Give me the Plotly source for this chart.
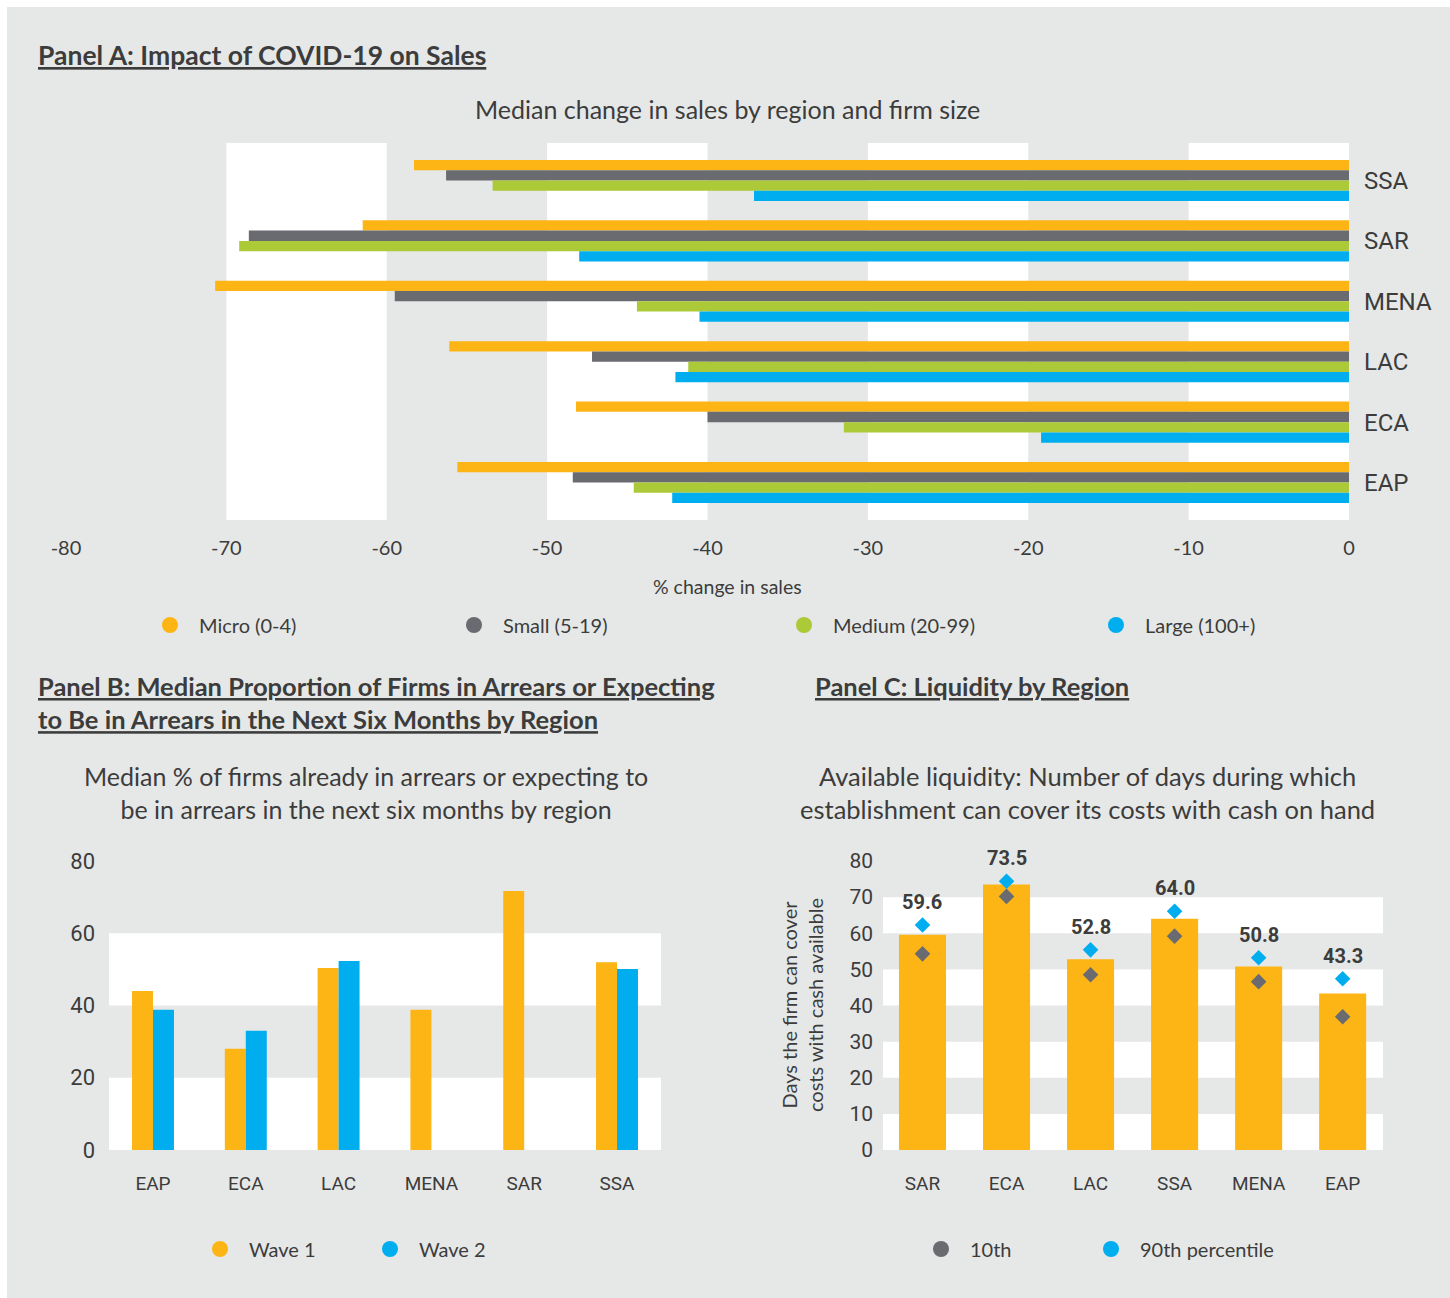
import plotly.graph_objects as go

# ---------------- data ----------------
# Panel A: median % change in sales by region and firm size
regions_a = ["EAP", "ECA", "LAC", "MENA", "SAR", "SSA"]
micro = [-55.6, -48.2, -56.1, -70.7, -61.5, -58.3]
small = [-48.4, -40.0, -47.2, -59.5, -68.6, -56.3]
medium = [-44.6, -31.5, -41.2, -44.4, -69.2, -53.4]
large = [-42.2, -19.2, -42.0, -40.5, -48.0, -37.1]
xticks_a = [-80, -70, -60, -50, -40, -30, -20, -10, 0]

# Panel B: median % of firms in arrears (or expecting to be)
regions_b = ["EAP", "ECA", "LAC", "MENA", "SAR", "SSA"]
wave1 = [44.0, 28.0, 50.4, 38.8, 71.7, 52.0]
wave2 = [38.8, 33.0, 52.3, None, None, 50.1]
yticks_b = [0, 20, 40, 60, 80]

# Panel C: days of costs covered with cash on hand
regions_c = ["SAR", "ECA", "LAC", "SSA", "MENA", "EAP"]
median_days = [59.6, 73.5, 52.8, 64.0, 50.8, 43.3]
p10_days = [54.3, 70.2, 48.5, 59.2, 46.6, 36.9]
p90_days = [62.3, 74.4, 55.4, 66.1, 53.2, 47.4]
yticks_c = [0, 10, 20, 30, 40, 50, 60, 70, 80]

# ---------------- style ----------------
ORANGE = "#FDB515"
GREY = "#696B70"
GREEN = "#ACC937"
BLUE = "#00AEEF"
PAGE = "#E6E8E7"
TEXT = "#3C3C3C"
BODY_FONT = "Lato"
TICK_FONT = "Roboto"

W, H = 1450, 1298


def px_x(p):
    return p / W


def px_y(p):
    return 1 - p / H


fig = go.Figure()
legend_layouts = {}
legend_count = [0]


def legend_entry(name, color, sym_x, sym_y, axes):
    """One legend item (circle swatch + label) with its own legend box."""
    legend_count[0] += 1
    key = "legend" if legend_count[0] == 1 else f"legend{legend_count[0]}"
    fig.add_trace(go.Scatter(
        x=[None], y=[None], mode="markers", name=name,
        marker=dict(symbol="circle", size=18, color=color),
        legend=key, xaxis=axes[0], yaxis=axes[1],
    ))
    legend_layouts[key] = dict(
        x=px_x(sym_x - 29), y=px_y(sym_y), xanchor="left", yanchor="middle",
        orientation="h", bgcolor="rgba(0,0,0,0)", itemsizing="trace", itemwidth=48,
        font=dict(family=BODY_FONT, size=20, color=TEXT),
    )


# ---------------- Panel A ----------------
bar_h = 0.17
series_a = [
    ("Micro (0-4)", micro, ORANGE, 0.17, 170),
    ("Small (5-19)", small, GREY, 0.0, 474),
    ("Medium (20-99)", medium, GREEN, -0.17, 804),
    ("Large (100+)", large, BLUE, -0.34, 1116),
]
for name, vals, col, off, _ in series_a:
    fig.add_trace(go.Bar(
        y=regions_a, x=vals, orientation="h", name=name,
        marker=dict(color=col, line=dict(width=0)),
        width=bar_h, offset=off, showlegend=False,
        xaxis="x", yaxis="y",
    ))
for name, vals, col, off, lx in series_a:
    legend_entry(name, col, lx, 625, ("x", "y"))

# ---------------- Panel B ----------------
bar_w_b = 0.226
for name, vals, col, off, lx in [("Wave 1", wave1, ORANGE, -bar_w_b, 220),
                                 ("Wave 2", wave2, BLUE, 0.0, 390)]:
    fig.add_trace(go.Bar(
        x=regions_b, y=vals, name=name,
        marker=dict(color=col, line=dict(width=0)),
        width=bar_w_b, offset=off, showlegend=False,
        xaxis="x2", yaxis="y2",
    ))
    legend_entry(name, col, lx, 1249, ("x2", "y2"))

# ---------------- Panel C ----------------
fig.add_trace(go.Bar(
    x=regions_c, y=median_days, name="Median",
    marker=dict(color=ORANGE, line=dict(width=0)),
    width=0.56, offset=-0.28, showlegend=False,
    xaxis="x3", yaxis="y3",
))
for name, vals, col, lx in [("10th", p10_days, GREY, 941),
                            ("90th percentile", p90_days, BLUE, 1111)]:
    fig.add_trace(go.Scatter(
        x=regions_c, y=vals, mode="markers", name=name,
        marker=dict(symbol="diamond", size=12, color=col),
        showlegend=False, xaxis="x3", yaxis="y3",
    ))
    legend_entry(name, col, lx, 1249, ("x3", "y3"))

# value labels above the 90th-percentile markers
annotations = []
for reg, med, top in zip(regions_c, median_days, p90_days):
    annotations.append(dict(
        x=reg, y=top, xref="x3", yref="y3", text=f"<b>{med:.1f}</b>",
        showarrow=False, yshift=23, yanchor="middle",
        font=dict(family=TICK_FONT, size=20, color=TEXT),
    ))

# ---------------- background bands ----------------
shapes = [dict(type="rect", xref="paper", yref="paper", x0=px_x(7), x1=1,
               y0=0, y1=px_y(7), fillcolor=PAGE, line=dict(width=0), layer="below")]
for a, b in [(-70, -60), (-50, -40), (-30, -20), (-10, 0)]:
    shapes.append(dict(type="rect", xref="x", yref="y domain", x0=a, x1=b, y0=0, y1=1,
                       fillcolor="white", line=dict(width=0), layer="below"))
for a, b in [(0, 20), (40, 60)]:
    shapes.append(dict(type="rect", xref="x2 domain", yref="y2", x0=0, x1=1, y0=a, y1=b,
                       fillcolor="white", line=dict(width=0), layer="below"))
for a, b in [(0, 10), (20, 30), (40, 50), (60, 70)]:
    shapes.append(dict(type="rect", xref="x3 domain", yref="y3", x0=0, x1=1, y0=a, y1=b,
                       fillcolor="white", line=dict(width=0), layer="below"))

# ---------------- titles & captions ----------------
def text_note(x, y, text, size, xanchor="left", bold=False, underline=False, angle=0, family=BODY_FONT):
    t = text
    if underline:
        t = f"<u>{t}</u>"
    if bold:
        t = f"<b>{t}</b>"
    return dict(x=px_x(x), y=px_y(y), xref="paper", yref="paper", text=t,
                showarrow=False, xanchor=xanchor, yanchor="middle", textangle=angle,
                align="left" if xanchor == "left" else "center",
                font=dict(family=family, size=size, color=TEXT))


annotations += [
    text_note(36, 55, "Panel A: Impact of COVID-19 on Sales", 26.5, bold=True, underline=True),
    text_note(727, 109, "Median change in sales by region and firm size", 25, xanchor="center"),
    text_note(727, 586, "% change in sales", 19.5, xanchor="center"),
    text_note(36, 702, "Panel B: Median Proportion of Firms in Arrears or Expecting<br>"
                       "to Be in Arrears in the Next Six Months by Region", 25.5, bold=True, underline=True),
    text_note(366, 792, "Median % of firms already in arrears or expecting to<br>"
                        "be in arrears in the next six months by region", 25, xanchor="center"),
    text_note(813, 686, "Panel C: Liquidity by Region", 25.5, bold=True, underline=True),
    text_note(1087, 792, "Available liquidity: Number of days during which<br>"
                         "establishment can cover its costs with cash on hand", 25.5, xanchor="center"),
    text_note(802, 1005, "Days the firm can cover<br>costs with cash available", 20,
              xanchor="center", angle=-90),
]

tick_font = dict(family=TICK_FONT, size=19, color=TEXT)

fig.update_layout(
    width=W, height=H,
    margin=dict(l=0, r=0, t=0, b=0, autoexpand=False),
    paper_bgcolor="white",
    plot_bgcolor="rgba(0,0,0,0)",
    barmode="group",
    showlegend=True,
    shapes=shapes,
    annotations=annotations,
    xaxis=dict(domain=[px_x(66), px_x(1349)], range=[-80, 0], tickvals=xticks_a,
               ticktext=[str(v) for v in xticks_a],
               showgrid=False, zeroline=False, showline=False, ticks="", automargin=False,
               tickfont=dict(family=BODY_FONT, size=20, color=TEXT), ticklabelstandoff=14,
               fixedrange=True),
    yaxis=dict(domain=[px_y(520), px_y(143)], type="category",
               categoryorder="array", categoryarray=regions_a, range=[-0.62, 5.62],
               side="right", showgrid=False, zeroline=False, showline=False, ticks="",
               automargin=False,
               tickfont=dict(family=TICK_FONT, size=24, color=TEXT), ticklabelstandoff=14,
               anchor="x"),
    xaxis2=dict(domain=[px_x(109), px_x(661)], type="category",
                categoryorder="array", categoryarray=regions_b, range=[-0.474, 5.474],
                showgrid=False, zeroline=False, showline=False, ticks="", automargin=False,
                tickfont=tick_font, ticklabelstandoff=20, anchor="y2"),
    yaxis2=dict(domain=[px_y(1150), px_y(861)], range=[0, 80], tickvals=yticks_b,
                showgrid=False, zeroline=False, showline=False, ticks="", automargin=False,
                tickfont=dict(family=TICK_FONT, size=22, color=TEXT), ticklabelstandoff=13,
                anchor="x2"),
    xaxis3=dict(domain=[px_x(883), px_x(1383)], type="category",
                categoryorder="array", categoryarray=regions_c, range=[-0.47, 5.48],
                showgrid=False, zeroline=False, showline=False, ticks="", automargin=False,
                tickfont=tick_font, ticklabelstandoff=20, anchor="y3"),
    yaxis3=dict(domain=[px_y(1150), px_y(861)], range=[0, 80], tickvals=yticks_c,
                showgrid=False, zeroline=False, showline=False, ticks="", automargin=False,
                tickfont=dict(family=TICK_FONT, size=21, color=TEXT), ticklabelstandoff=9,
                anchor="x3"),
    **legend_layouts,
)

fig.write_html("out.html")
